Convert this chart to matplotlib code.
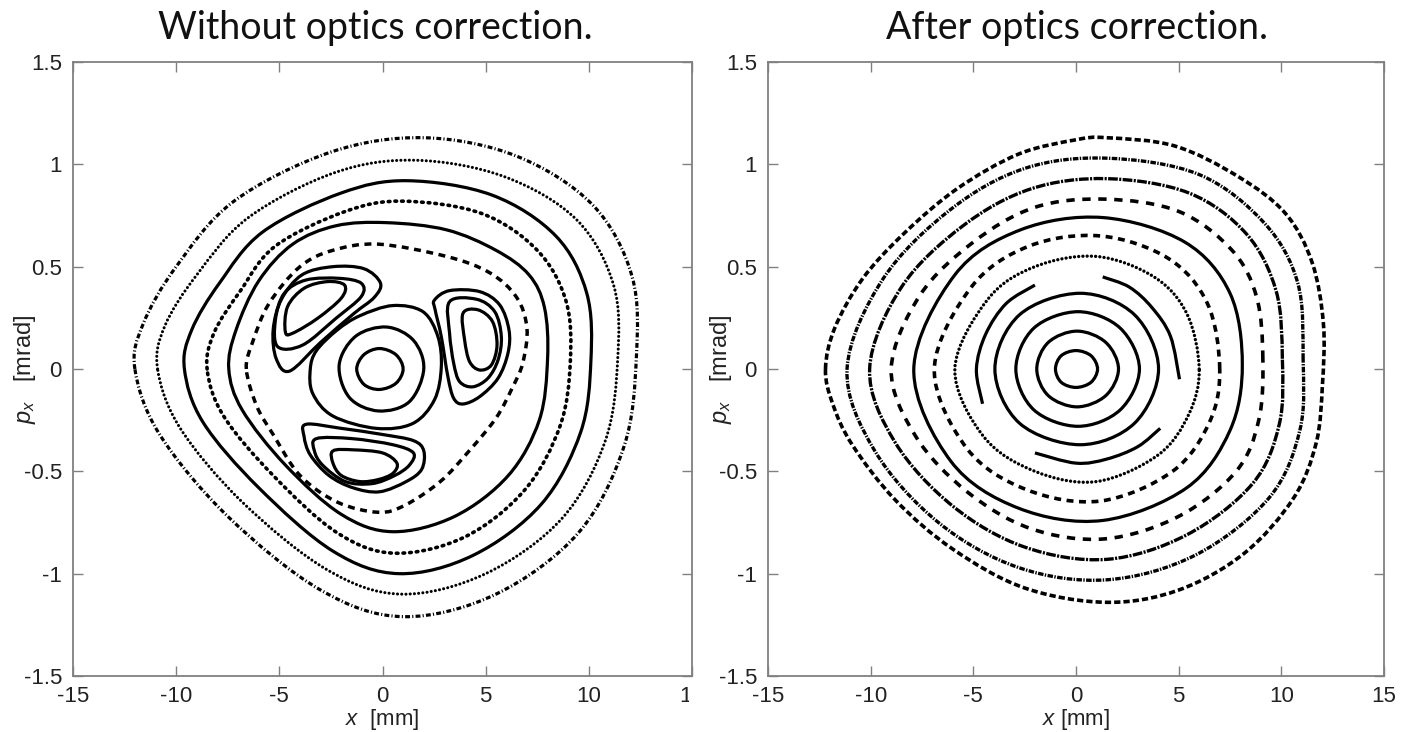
import numpy as np
import matplotlib
matplotlib.use('Agg')
import matplotlib.pyplot as plt
from matplotlib.path import Path
from matplotlib.patches import PathPatch
from matplotlib.transforms import Bbox, TransformedBbox

# ---- axis ticks / text ----
x_ticks = [-15, -10, -5, 0, 5, 10, 15]
x_ticklabels = ['-15', '-10', '-5', '0', '5', '10', '15']
p_ticks = [-1.5, -1, -0.5, 0, 0.5, 1, 1.5]
p_ticklabels = ['-1.5', '-1', '-0.5', '0', '0.5', '1', '1.5']
titles = ['Without optics correction.', 'After optics correction.']

# ---- left panel: orbits (x [mm], p_x [mrad]) ----
left_orbit_1 = [(-12.0, 0.00), (-11.6, 0.22), (-10.0, 0.50), (-7.2, 0.82), (-2.5, 1.06), (2.0, 1.13),
                (6.5, 1.04), (10.2, 0.80), (12.1, 0.45), (12.3, 0.05), (11.7, -0.38), (9.5, -0.80),
                (5.5, -1.10), (1.0, -1.21), (-3.0, -1.08), (-7.5, -0.72), (-10.8, -0.32)]
left_orbit_2 = [(-10.9, 0.00), (-10.55, 0.21), (-9.0, 0.46), (-6.5, 0.74), (-2.3, 0.96), (1.6, 1.02),
                (5.9, 0.94), (9.4, 0.73), (11.2, 0.41), (11.4, 0.05), (10.8, -0.35), (8.7, -0.73),
                (5.0, -1.00), (0.9, -1.10), (-2.7, -0.98), (-6.8, -0.65), (-9.8, -0.29)]
left_orbit_3 = [(-9.6, 0.00), (-9.25, 0.19), (-7.9, 0.42), (-5.8, 0.67), (-2.0, 0.86), (1.2, 0.92),
                (5.3, 0.85), (8.4, 0.65), (9.9, 0.37), (10.1, 0.04), (9.6, -0.31), (7.7, -0.66),
                (4.4, -0.91), (0.8, -1.00), (-2.4, -0.89), (-6.0, -0.58), (-8.7, -0.26)]
left_orbit_4 = [(-8.5, 0.00), (-8.15, 0.18), (-6.9, 0.38), (-5.2, 0.60), (-1.8, 0.77), (1.0, 0.82),
                (4.8, 0.76), (7.5, 0.58), (8.9, 0.33), (9.1, 0.03), (8.6, -0.28), (6.9, -0.59),
                (4.0, -0.82), (0.6, -0.90), (-2.2, -0.80), (-5.3, -0.52), (-7.7, -0.23)]
left_orbit_5 = [(-7.45, 0.00), (-7.1, 0.19), (-6.0, 0.43), (-4.35, 0.61), (-2.25, 0.70), (0.2, 0.715),
                (3.1, 0.68), (5.5, 0.58), (7.1, 0.46), (7.85, 0.30), (8.0, 0.05), (7.6, -0.25),
                (6.1, -0.52), (3.5, -0.72), (0.5, -0.795), (-2.0, -0.71), (-4.7, -0.47), (-6.8, -0.20)]
left_orbit_6 = [(-6.6, 0.00), (-6.3, 0.13), (-5.5, 0.32), (-4.0, 0.50), (-2.4, 0.58), (-0.2, 0.61),
                (3.1, 0.55), (5.2, 0.47), (6.5, 0.35), (7.0, 0.20), (6.8, 0.03), (6.3, -0.09),
                (5.5, -0.24), (4.2, -0.40), (2.8, -0.55), (1.1, -0.665), (-0.2, -0.70),
                (-2.2, -0.65), (-4.0, -0.52), (-5.3, -0.32), (-6.1, -0.18)]
centre_1 = [(1.0, 0.0), (0.65, 0.07), (-0.15, 0.10), (-0.9, 0.07), (-1.25, 0.0), (-0.9, -0.075),
            (-0.15, -0.10), (0.65, -0.07)]
centre_2 = [(2.0, 0.0), (1.5, 0.14), (0.2, 0.205), (-1.3, 0.16), (-2.1, 0.02), (-1.6, -0.14),
            (-0.2, -0.205), (1.3, -0.16)]
centre_3 = [(-3.5, 0.0), (-3.2, 0.09), (-2.2, 0.19), (-1.1, 0.26), (0.5, 0.31), (1.96, 0.28),
            (2.68, 0.16), (2.85, 0.01), (2.52, -0.15), (1.47, -0.266), (-0.3, -0.29),
            (-2.4, -0.23), (-3.38, -0.12)]
island_tl = [
    [(-5.3, 0.19), (-4.9, 0.34), (-3.9, 0.46), (-2.4, 0.50), (-0.9, 0.49), (-0.1, 0.42), (-0.4, 0.35),
     (-1.4, 0.27), (-3.0, 0.13), (-4.5, -0.01), (-5.15, 0.05)],
    [(-5.19, 0.24), (-4.76, 0.37), (-3.7, 0.435), (-2.09, 0.443), (-1.03, 0.419), (-1.03, 0.354),
     (-2.25, 0.248), (-3.87, 0.117), (-5.08, 0.109)],
    [(-4.71, 0.182), (-4.6, 0.305), (-3.79, 0.395), (-2.66, 0.427), (-1.84, 0.41), (-2.0, 0.346),
     (-3.14, 0.248), (-4.35, 0.175)],
]
island_r = [
    [(2.52, 0.337), (3.25, 0.383), (4.71, 0.378), (5.68, 0.313), (6.13, 0.191), (6.08, 0.077),
     (5.6, -0.045), (4.71, -0.135), (3.9, -0.171), (3.45, -0.143), (3.17, -0.038), (2.85, 0.158),
     (2.55, 0.29)],
    [(3.25, 0.329), (4.55, 0.341), (5.44, 0.28), (5.76, 0.158), (5.6, 0.044), (5.11, -0.045),
     (4.38, -0.087), (3.74, -0.062), (3.45, 0.028), (3.25, 0.175)],
    [(3.9, 0.272), (4.63, 0.289), (5.33, 0.232), (5.55, 0.117), (5.28, 0.02), (4.71, -0.005),
     (4.22, 0.036), (3.98, 0.142)],
]
island_b = [
    [(-3.7, -0.27), (-2.0, -0.29), (0.0, -0.32), (1.5, -0.35), (2.0, -0.40), (1.9, -0.49),
     (1.15, -0.55), (-0.15, -0.60), (-1.44, -0.58), (-2.6, -0.52), (-3.5, -0.42), (-3.8, -0.33)],
    [(-3.2, -0.34), (-1.5, -0.34), (0.5, -0.37), (1.5, -0.41), (1.3, -0.47), (0.6, -0.52),
     (-0.5, -0.56), (-1.8, -0.55), (-2.9, -0.47), (-3.3, -0.40)],
    [(-2.4, -0.40), (-1.4, -0.395), (0.0, -0.41), (0.7, -0.46), (0.5, -0.51), (-0.2, -0.54),
     (-1.1, -0.55), (-2.0, -0.52), (-2.4, -0.46)],
]

# ---- right panel: orbits ----
right_orbit_1 = [(-12.2, 0.00), (-11.75, 0.20), (-10.4, 0.44), (-8.4, 0.66), (-5.8, 0.88), (-2.8, 1.05),
                 (0.0, 1.12), (1.5, 1.13), (4.8, 1.09), (7.9, 0.94), (10.2, 0.76), (11.5, 0.52),
                 (12.05, 0.22), (12.0, -0.08), (11.7, -0.36), (10.6, -0.63), (8.2, -0.90), (5.0, -1.08),
                 (1.5, -1.14), (-2.5, -1.07), (-6.0, -0.88), (-8.8, -0.64), (-10.9, -0.37), (-11.85, -0.17)]
right_orbit_2 = [(11.06, 0.05), (10.8, 0.42), (9.2, 0.71), (6.0, 0.95), (1.5, 1.03), (-2.5, 0.98),
                 (-6.1, 0.78), (-9.4, 0.44), (-11.15, 0.0), (-9.8, -0.40), (-6.7, -0.75), (-2.8, -0.97),
                 (1.5, -1.03), (5.8, -0.91), (9.4, -0.63), (10.9, -0.30)]
right_orbit_3 = [(10.05, 0.05), (9.75, 0.38), (8.3, 0.66), (5.5, 0.86), (1.5, 0.93), (-2.2, 0.88),
                 (-5.5, 0.70), (-8.5, 0.40), (-10.05, 0.0), (-8.8, -0.36), (-6.0, -0.67), (-2.5, -0.87),
                 (1.5, -0.93), (5.4, -0.81), (8.6, -0.56), (9.9, -0.27)]
right_orbit_4 = [(9.1, 0.05), (8.8, 0.35), (7.6, 0.58), (5.0, 0.77), (1.4, 0.83), (-2.0, 0.79),
                 (-5.0, 0.62), (-7.6, 0.36), (-9.0, 0.0), (-7.8, -0.33), (-5.3, -0.60), (-2.2, -0.78),
                 (1.4, -0.83), (5.0, -0.72), (7.8, -0.50), (8.9, -0.25)]
right_orbit_5 = [(8.1, 0.02), (7.5, 0.37), (5.3, 0.62), (1.3, 0.74), (-2.7, 0.68), (-5.9, 0.46),
                 (-7.9, 0.0), (-6.1, -0.45), (-2.8, -0.68), (1.3, -0.74), (5.4, -0.58), (7.5, -0.30)]
right_orbit_6 = [(7.0, 0.0), (6.4, 0.32), (4.5, 0.54), (1.2, 0.65), (-2.3, 0.60), (-5.1, 0.40),
                 (-6.9, 0.0), (-5.3, -0.39), (-2.4, -0.59), (1.2, -0.645), (4.7, -0.50), (6.5, -0.26)]
right_orbit_7 = [(6.0, 0.0), (5.4, 0.27), (3.8, 0.45), (1.0, 0.55), (-2.0, 0.50), (-4.3, 0.34),
                 (-5.9, 0.0), (-4.5, -0.33), (-2.0, -0.50), (1.0, -0.55), (4.0, -0.42), (5.5, -0.22)]
right_orbit_8_arcs = [
    [(1.3, 0.45), (2.6, 0.40), (3.7, 0.30), (4.6, 0.16), (5.04, -0.05)],
    [(-2.0, 0.41), (-3.4, 0.32), (-4.4, 0.17), (-4.85, 0.0), (-4.55, -0.17)],
    [(4.1, -0.29), (3.0, -0.38), (1.5, -0.44), (0.0, -0.46), (-2.0, -0.41)],
]
right_orbit_9 = [(4.02, 0.0), (2.85, 0.265), (0.2, 0.37), (-2.75, 0.265), (-3.95, 0.0),
                 (-2.75, -0.265), (0.2, -0.37), (2.85, -0.265)]
right_orbit_10 = [(3.09, 0.0), (2.15, 0.2), (0.1, 0.28), (-2.05, 0.2), (-2.93, 0.0), (-2.05, -0.2),
                  (0.1, -0.28), (2.15, -0.2)]
right_orbit_11 = [(2.07, 0.0), (1.45, 0.13), (0.05, 0.185), (-1.35, 0.13), (-1.91, 0.0),
                  (-1.35, -0.13), (0.05, -0.185), (1.45, -0.13)]
right_orbit_12 = [(1.05, 0.0), (0.73, 0.065), (0.0, 0.09), (-0.72, 0.065), (-1.0, 0.0),
                  (-0.72, -0.065), (0.0, -0.09), (0.73, -0.065)]

plt.rcParams['font.family'] = ['Liberation Sans', 'DejaVu Sans']
plt.rcParams['mathtext.fontset'] = 'custom'
plt.rcParams['mathtext.it'] = 'Liberation Sans:italic'
plt.rcParams['mathtext.rm'] = 'Liberation Sans'
plt.rcParams['lines.scale_dashes'] = False


def smooth(points, closed=True):
    # Catmull-Rom through the read points, handed to matplotlib as cubic Bezier segments
    pts = np.asarray(points, dtype=float)
    if closed:
        P = np.vstack([pts[-1], pts, pts[0], pts[1]])
    else:
        P = np.vstack([pts[0], pts, pts[-1]])
    verts = [P[1]]
    codes = [Path.MOVETO]
    for i in range(1, len(P) - 2):
        p0, p1, p2, p3 = P[i - 1], P[i], P[i + 1], P[i + 2]
        verts += [p1 + (p2 - p0) / 6.0, p2 - (p3 - p1) / 6.0, p2]
        codes += [Path.CURVE4] * 3
    return Path(verts, codes)


def orbit(ax, points, ls='-', closed=True, lw=2.3, cap='butt'):
    ax.add_patch(PathPatch(smooth(points, closed), fill=False, lw=lw, ls=ls,
                           edgecolor='black', capstyle=cap, joinstyle='round'))


DOTS = (0, (0.05, 3.0))
DOTS_BIG = (0, (1.2, 3.6))
DASH = (0, (5, 4))
DASHDOT = (0, (3.5, 1.6, 0.8, 1.6))

fig = plt.figure(figsize=(14.03, 7.32), dpi=100)
axL = fig.add_axes([73 / 1403, 1 - 676 / 732, 619 / 1403, 614 / 732])
axR = fig.add_axes([768 / 1403, 1 - 676 / 732, 616 / 1403, 614 / 732])

# left panel
orbit(axL, left_orbit_1, DASHDOT)
orbit(axL, left_orbit_2, DOTS, cap='round', lw=2.2)
orbit(axL, left_orbit_3)
orbit(axL, left_orbit_4, DOTS_BIG, cap='round', lw=2.6)
orbit(axL, left_orbit_5)
orbit(axL, left_orbit_6, DASH, lw=2.5)
for c in (centre_1, centre_2, centre_3):
    orbit(axL, c)
for isl in (island_tl, island_r, island_b):
    for loop in isl:
        orbit(axL, loop)

# right panel
orbit(axR, right_orbit_1, (0, (4.5, 2.2)), lw=2.6)
orbit(axR, right_orbit_2, (0, (4.0, 1.0, 1.0, 1.0)), lw=2.4)
orbit(axR, right_orbit_3, (0, (7.0, 1.0, 1.5, 1.0)), lw=2.4)
orbit(axR, right_orbit_4, (0, (6, 5.5)), lw=2.6)
orbit(axR, right_orbit_5)
orbit(axR, right_orbit_6, (0, (5, 4)), lw=2.6)
orbit(axR, right_orbit_7, DOTS, cap='round', lw=2.4)
for arc in right_orbit_8_arcs:
    orbit(axR, arc, closed=False)
for c in (right_orbit_9, right_orbit_10, right_orbit_11, right_orbit_12):
    orbit(axR, c)

xlabels = [r'$x$  [mm]', r'$x$ [mm]']
for ax, title, xl in zip((axL, axR), titles, xlabels):
    ax.set_xlim(-15, 15)
    ax.set_ylim(-1.5, 1.5)
    ax.set_xticks(x_ticks)
    ax.set_xticklabels(x_ticklabels)
    ax.set_yticks(p_ticks)
    ax.set_yticklabels(p_ticklabels)
    ax.tick_params(direction='in', length=7, width=1, top=True, right=True,
                   labelsize=16, color='#808080', labelcolor='#222222')
    ax.tick_params(axis='y', pad=8)
    ax.tick_params(axis='x', pad=7)
    for s in ax.spines.values():
        s.set_color('#808080')
        s.set_linewidth(1.3)
    ax.set_xlabel(xl, fontsize=16, color='#222222', labelpad=0)
    ax.set_ylabel(r'$p_x$   [mrad]', fontsize=17, color='#222222')
    ax.yaxis.set_label_coords(-0.056, 0.5)

# the left panel's last x label is cut by the panel edge in the source figure
lab = axL.get_xticklabels()[-1]
lab.set_clip_box(TransformedBbox(Bbox([[0, 0], [689 / 1403, 1]]), fig.transFigure))
lab.set_clip_on(True)

fig.text(375 / 1403, 1 - 28 / 732, titles[0], ha='center', va='center', fontsize=27,
         family=['Lato', 'DejaVu Sans'], color='#111111')
fig.text(1077 / 1403, 1 - 28 / 732, titles[1], ha='center', va='center', fontsize=27,
         family=['Lato', 'DejaVu Sans'], color='#111111')

fig.savefig('out.png', dpi=100, facecolor='white')
